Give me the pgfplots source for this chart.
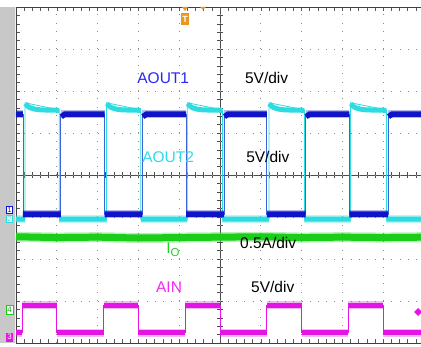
\documentclass[border=0pt]{standalone}
\usepackage{fontspec}
\setmainfont{Liberation Sans}
\usepackage{pgfplots}
\pgfplotsset{compat=1.18}
\definecolor{c1}{RGB}{15,20,200}
\definecolor{c1e}{RGB}{60,100,215}
\definecolor{c2}{RGB}{45,220,225}
\definecolor{c3}{RGB}{25,205,25}
\definecolor{c4}{RGB}{228,20,228}
\definecolor{t1}{RGB}{40,40,245}
\definecolor{t2}{RGB}{45,220,235}
\definecolor{t3}{RGB}{40,205,40}
\definecolor{t4}{RGB}{245,40,245}
\definecolor{gridc}{RGB}{140,140,140}
\definecolor{strip}{RGB}{200,200,200}
\definecolor{trig}{RGB}{235,150,30}
\newcommand{\lbl}{\fontsize{15.5}{18}\selectfont}
\begin{document}
\begin{tikzpicture}[x=1pt,y=1pt]
\useasboundingbox (0,0) rectangle (421,346);
\fill[white] (0,0) rectangle (421,346);
\fill[strip] (0,3) rectangle (16,339);
\draw[white!90!gray,line width=0.8pt] (15.2,3) -- (15.2,339);
% centre cross with ticks
\draw[gray!60!black,line width=0.7pt] (220,3) -- (220,339);
\draw[gray!60!black,line width=0.7pt] (16,171) -- (421,171);
\foreach \k in {0,...,40} \draw[gray!60!black,line width=0.5pt] (217,3+\k*8.4) -- (223,3+\k*8.4);
\foreach \k in {0,...,50} \draw[gray!60!black,line width=0.5pt] (16+\k*8.159,168) -- (16+\k*8.159,174);
\begin{axis}[at={(16pt,3pt)}, anchor=south west, scale only axis,
  width=410pt, height=336pt, xmin=0, xmax=10.05, ymin=-4, ymax=4,
  xtick={0,...,10}, ytick={-4,...,4}, xticklabels={}, yticklabels={},
  tick label style={opacity=0},
  minor x tick num=4, minor y tick num=4, tick align=inside,
  major tick length=4pt, minor tick length=4pt,
  tick style={gray!70!black, line width=0.5pt},
  axis line style={gray!50!black, line width=0.8pt},
  grid=major,
  x grid style={gridc, line width=0.9pt, dash pattern=on 0.9pt off 7.5pt},
  y grid style={gridc, line width=0.9pt, dash pattern=on 0.9pt off 7.26pt},
  unbounded coords=jump, clip=true]
% ---------- AIN (magenta) ----------
\addplot[c4, line width=0.9pt] coordinates {(0,-3.76)(0.15,-3.76)(0.15,-3.1)(1.0,-3.1)(1.0,-3.76)(2.15,-3.76)(2.15,-3.1)(3.0,-3.1)(3.0,-3.76)(4.15,-3.76)(4.15,-3.1)(5.0,-3.1)(5.0,-3.76)(6.15,-3.76)(6.15,-3.1)(7.0,-3.1)(7.0,-3.76)(8.15,-3.76)(8.15,-3.1)(9.0,-3.1)(9.0,-3.76)(10.05,-3.76)};
\addplot[c4, line width=8pt, opacity=0.3] coordinates {(0,-3.76)(0.15,-3.76)(0.15,nan)(0.15,-3.1)(1.0,-3.1)(1.0,nan)(1.0,-3.76)(2.15,-3.76)(2.15,nan)(2.15,-3.1)(3.0,-3.1)(3.0,nan)(3.0,-3.76)(4.15,-3.76)(4.15,nan)(4.15,-3.1)(5.0,-3.1)(5.0,nan)(5.0,-3.76)(6.15,-3.76)(6.15,nan)(6.15,-3.1)(7.0,-3.1)(7.0,nan)(7.0,-3.76)(8.15,-3.76)(8.15,nan)(8.15,-3.1)(9.0,-3.1)(9.0,nan)(9.0,-3.76)(10.05,-3.76)};
\addplot[c4, line width=5pt] coordinates {(0,-3.76)(0.15,-3.76)(0.15,nan)(0.15,-3.1)(1.0,-3.1)(1.0,nan)(1.0,-3.76)(2.15,-3.76)(2.15,nan)(2.15,-3.1)(3.0,-3.1)(3.0,nan)(3.0,-3.76)(4.15,-3.76)(4.15,nan)(4.15,-3.1)(5.0,-3.1)(5.0,nan)(5.0,-3.76)(6.15,-3.76)(6.15,nan)(6.15,-3.1)(7.0,-3.1)(7.0,nan)(7.0,-3.76)(8.15,-3.76)(8.15,nan)(8.15,-3.1)(9.0,-3.1)(9.0,nan)(9.0,-3.76)(10.05,-3.76)};
% ---------- IO (green) ----------
\addplot[c3, line width=10pt, opacity=0.3] coordinates {(0,-1.47)(1,-1.49)(2,-1.48)(3,-1.5)(4,-1.49)(5,-1.48)(6,-1.47)(7,-1.49)(8,-1.48)(9,-1.49)(10.05,-1.48)};
\addplot[c3, line width=7pt] coordinates {(0,-1.47)(1,-1.49)(2,-1.48)(3,-1.5)(4,-1.49)(5,-1.48)(6,-1.47)(7,-1.49)(8,-1.48)(9,-1.49)(10.05,-1.48)};
% ---------- AOUT2 (cyan) ----------
\addplot[c2, line width=0.8pt] coordinates {(0,-1.05)(0.22,-1.05)(0.22,1.72)(1.06,1.55)(1.06,-1.05)(2.22,-1.05)(2.22,1.72)(3.06,1.55)(3.06,-1.05)(4.2,-1.05)(4.2,1.72)(5.06,1.55)(5.06,-1.05)(6.2,-1.05)(6.2,1.72)(7.07,1.55)(7.07,-1.05)(8.2,-1.05)(8.2,1.72)(9.08,1.55)(9.08,-1.05)(10.05,-1.05)};
\addplot[c2, line width=8pt, opacity=0.3] coordinates {(0,-1.05)(0.22,-1.05)(0.22,nan)(1.06,-1.05)(2.22,-1.05)(2.22,nan)(3.06,-1.05)(4.2,-1.05)(4.2,nan)(5.06,-1.05)(6.2,-1.05)(6.2,nan)(7.07,-1.05)(8.2,-1.05)(8.2,nan)(9.08,-1.05)(10.05,-1.05)};
\addplot[c2, line width=5pt, line join=round] coordinates {(0,-1.05)(0.22,-1.05)(0.22,nan)
 (0.23,1.70)(0.28,1.64)(0.35,1.60)(0.45,1.57)(0.6,1.55)(1.06,1.54)(1.06,nan)(1.06,-1.05)(2.22,-1.05)(2.22,nan)
 (2.23,1.70)(2.28,1.64)(2.35,1.60)(2.45,1.57)(2.6,1.55)(3.06,1.54)(3.06,nan)(3.06,-1.05)(4.2,-1.05)(4.2,nan)
 (4.21,1.70)(4.26,1.64)(4.33,1.60)(4.43,1.57)(4.58,1.55)(5.06,1.54)(5.06,nan)(5.06,-1.05)(6.2,-1.05)(6.2,nan)
 (6.21,1.70)(6.26,1.64)(6.33,1.60)(6.43,1.57)(6.58,1.55)(7.07,1.54)(7.07,nan)(7.07,-1.05)(8.2,-1.05)(8.2,nan)
 (8.21,1.70)(8.26,1.64)(8.33,1.60)(8.43,1.57)(8.58,1.55)(9.08,1.54)(9.08,nan)(9.08,-1.05)(10.05,-1.05)};
% ---------- AOUT1 (blue) ----------
\addplot[c1e, line width=0.8pt] coordinates {(0,1.45)(0.17,1.45)(0.17,-0.93)(1.1,-0.93)(1.1,1.45)(2.17,1.45)(2.17,-0.93)(3.1,-0.93)(3.1,1.45)(4.17,1.45)(4.17,-0.93)(5.1,-0.93)(5.1,1.45)(6.15,1.45)(6.15,-0.93)(7.1,-0.93)(7.1,1.45)(8.17,1.45)(8.17,-0.93)(9.12,-0.93)(9.12,1.45)(10.05,1.45)};
\addplot[c1, line width=8pt, opacity=0.3] coordinates {(0,1.45)(0.17,1.45)(0.17,nan)(0.17,-0.93)(1.1,-0.93)(1.1,nan)(1.1,1.45)(2.17,1.45)(2.17,nan)(2.17,-0.93)(3.1,-0.93)(3.1,nan)(3.1,1.45)(4.17,1.45)(4.17,nan)(4.17,-0.93)(5.1,-0.93)(5.1,nan)(5.1,1.45)(6.15,1.45)(6.15,nan)(6.15,-0.93)(7.1,-0.93)(7.1,nan)(7.1,1.45)(8.17,1.45)(8.17,nan)(8.17,-0.93)(9.12,-0.93)(9.12,nan)(9.12,1.45)(10.05,1.45)};
\addplot[c1, line width=5.5pt] coordinates {(0,1.45)(0.17,1.45)(0.17,nan)(0.17,-0.93)(1.1,-0.93)(1.1,nan)(1.11,1.39)(1.2,1.45)(2.17,1.45)(2.17,nan)(2.17,-0.93)(3.1,-0.93)(3.1,nan)(3.11,1.39)(3.2,1.45)(4.17,1.45)(4.17,nan)(4.17,-0.93)(5.1,-0.93)(5.1,nan)(5.11,1.39)(5.2,1.45)(6.15,1.45)(6.15,nan)(6.15,-0.93)(7.1,-0.93)(7.1,nan)(7.11,1.39)(7.2,1.45)(8.17,1.45)(8.17,nan)(8.17,-0.93)(9.12,-0.93)(9.12,nan)(9.13,1.39)(9.22,1.45)(10.05,1.45)};
% ---------- labels ----------
\node[anchor=base west, text=t1, inner sep=0] at (axis cs:2.97,2.17) {\lbl AOUT1};
\node[anchor=base west, inner sep=0] at (axis cs:5.61,2.17) {\lbl 5V/div};
\node[anchor=base west, text=t2, inner sep=0] at (axis cs:3.09,0.29) {\lbl AOUT2};
\node[anchor=base west, inner sep=0] at (axis cs:5.64,0.29) {\lbl 5V/div};
\node[anchor=base west, text=t3, inner sep=0] at (axis cs:3.68,-1.86) {\lbl I\raisebox{-3pt}{\fontsize{11.5}{13}\selectfont O}};
\node[anchor=base west, inner sep=0] at (axis cs:5.49,-1.74) {\lbl 0.5A/div};
\node[anchor=base west, text=t4, inner sep=0] at (axis cs:3.43,-2.79) {\lbl AIN};
\node[anchor=base west, inner sep=0] at (axis cs:5.76,-2.79) {\lbl 5V/div};
\end{axis}
% channel markers
\node[draw=c1, fill=white, text=c1, inner sep=0.5pt, minimum width=6pt, minimum height=7pt, font=\fontsize{7}{7}\selectfont] at (9.5,136) {1};
\node[draw=c2, fill=white, text=c2, inner sep=0.5pt, minimum width=6pt, minimum height=7pt, font=\fontsize{7}{7}\selectfont] at (9.5,127) {2};
\node[draw=c3, fill=white, text=c3!80!black, inner sep=0.5pt, minimum width=7pt, minimum height=9pt, font=\fontsize{8}{8}\selectfont] at (9.5,36) {4};
\node[fill=c4, text=white, inner sep=0.5pt, minimum width=7pt, minimum height=9pt, font=\fontsize{8}{8}\selectfont] at (9.5,9) {3};
% trigger markers
\fill[trig] (181,333) rectangle (189,321) ;
\node[text=white, font=\bfseries\fontsize{9}{9}\selectfont, inner sep=0] at (185,327) {T};
\fill[trig] (182,339) -- (188,339) -- (185,335) -- cycle;
\fill[trig] (200,339) -- (206,339) -- (203,336) -- cycle;
\fill[c4] (414,34) -- (418,38) -- (422,34) -- (418,30) -- cycle;
\end{tikzpicture}
\end{document}
